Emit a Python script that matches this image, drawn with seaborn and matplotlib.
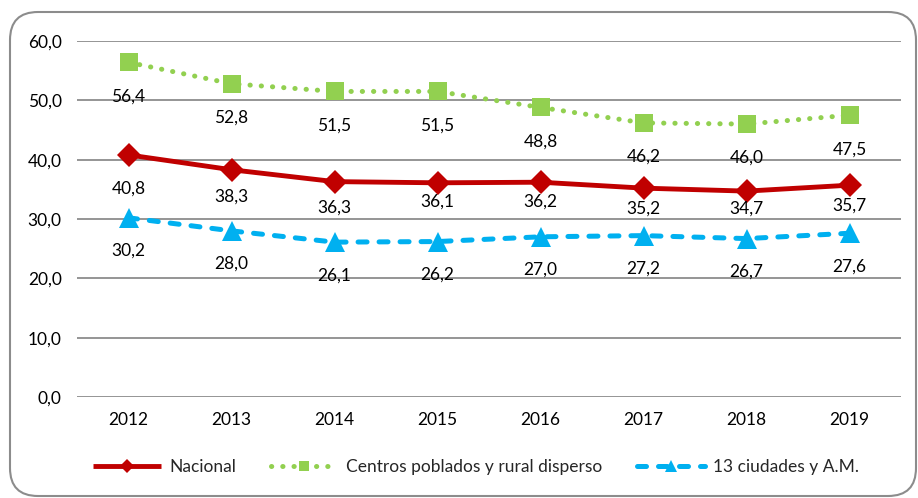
import matplotlib
matplotlib.use("Agg")
import matplotlib.pyplot as plt
from matplotlib.patches import FancyBboxPatch
from matplotlib.ticker import FuncFormatter
import pandas as pd
import seaborn as sns

years = [2012, 2013, 2014, 2015, 2016, 2017, 2018, 2019]
nacional = [40.8, 38.3, 36.3, 36.1, 36.2, 35.2, 34.7, 35.7]
rural = [56.4, 52.8, 51.5, 51.5, 48.8, 46.2, 46.0, 47.5]
ciudades = [30.2, 28.0, 26.1, 26.2, 27.0, 27.2, 26.7, 27.6]
series_names = ["Nacional", "Centros poblados y rural disperso", "13 ciudades y A.M."]

# label offsets below each point (pixels) - Excel nudged the red ones
label_drop = {
    "Nacional": [34, 27, 26, 19, 19, 20, 18, 20],
    "Centros poblados y rural disperso": [34] * 8,
    "13 ciudades y A.M.": [33] * 8,
}

styles = {
    "Nacional": dict(color="#C00000", marker="D", markersize=12, linewidth=3.5,
                     linestyle="-", cap="butt"),
    "Centros poblados y rural disperso": dict(color="#92D050", marker="s", markersize=13,
                                              linewidth=3.6, linestyle=(0, (0.05, 2.2)),
                                              cap="round"),
    "13 ciudades y A.M.": dict(color="#00B0F0", marker="^", markersize=14, linewidth=3.6,
                               linestyle=(0, (1.8, 2.4)), cap="round"),
}

data = pd.DataFrame({"year": years, series_names[0]: nacional,
                     series_names[1]: rural, series_names[2]: ciudades})

sns.set_style("white")
plt.rcParams["font.family"] = ["Lato", "DejaVu Sans"]
fs = 12.5

fig = plt.figure(figsize=(9.18, 4.98), dpi=100)
ax = fig.add_axes([77 / 918, 1 - 397 / 498, (901 - 77) / 918, (397 - 41) / 498])

handles = []
for name in series_names:
    st = styles[name]
    sns.lineplot(data=data, x="year", y=name, ax=ax, color=st["color"],
                 linewidth=st["linewidth"], linestyle=st["linestyle"],
                 marker=st["marker"], markersize=st["markersize"],
                 markeredgewidth=0, label=name, legend=False, zorder=3)
    line = ax.lines[-1]
    line.set_dash_capstyle(st["cap"])
    line.set_solid_capstyle("round" if st["cap"] == "round" else "butt")
    line.set_clip_on(False)
    handles.append(line)
    for x, y, d in zip(years, data[name], label_drop[name]):
        ax.annotate(f"{y:.1f}".replace(".", ","), (x, y), xytext=(0, -d * 0.72),
                    textcoords="offset points", ha="center", va="center",
                    fontsize=fs, color="#000000", zorder=4)

ax.set_xlim(2011.5, 2019.5)
ax.set_ylim(0, 60)
ax.set_xticks(years)
ax.set_yticks([0, 10, 20, 30, 40, 50, 60])
ax.yaxis.set_major_formatter(FuncFormatter(lambda v, p: f"{v:.1f}".replace(".", ",")))
ax.tick_params(axis="both", length=0, labelsize=fs, labelcolor="#000000")
ax.tick_params(axis="y", pad=11)
ax.tick_params(axis="x", pad=11)
ax.set_xlabel("")
ax.set_ylabel("")
ax.grid(axis="y", color="#8C8C8C", linewidth=1.3)
ax.set_axisbelow(True)
for s in ax.spines.values():
    s.set_visible(False)

fig.legend(handles=handles, labels=series_names, loc="center", ncol=3,
           bbox_to_anchor=(476 / 918, 1 - 467 / 498), frameon=False,
           fontsize=fs, handlelength=3.9, columnspacing=2.0, handletextpad=0.45,
           markerscale=0.6)

border = FancyBboxPatch((10, 2), 906, 484, boxstyle="round,pad=0,rounding_size=28",
                        transform=None, facecolor="none", edgecolor="#8C8C8C",
                        linewidth=1.5, zorder=10)
fig.patches.append(border)

fig.savefig("out.png", dpi=100)
